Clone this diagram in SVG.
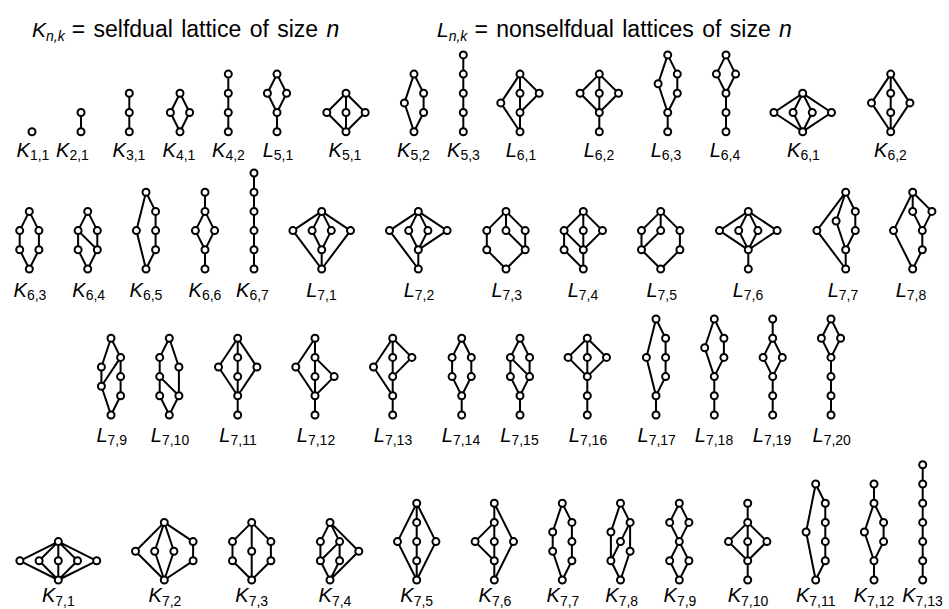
<svg xmlns="http://www.w3.org/2000/svg" width="949" height="609" viewBox="0 0 949 609">
<style>
.e{fill:none;stroke:#000;stroke-width:2;stroke-linejoin:round}
.n circle{fill:#fff;stroke:#000;stroke-width:2}
text{font-family:"Liberation Sans",Arial,sans-serif;font-size:20px;fill:#000}
.lb{text-anchor:middle}
.i{font-style:italic}
.s{font-size:14px}
.h{font-size:23px;word-spacing:2px}
</style>
<rect width="949" height="609" fill="#fff"/>
<g id="header">
<text x="32" y="37"><tspan class="i" font-size="21">K</tspan><tspan class="s i" dy="4">n,k</tspan><tspan class="h" dy="-4" dx="7">= selfdual lattice of size </tspan><tspan class="h i">n</tspan></text>
<text x="437" y="37"><tspan class="i" font-size="21">L</tspan><tspan class="s i" dy="4">n,k</tspan><tspan class="h" dy="-4" dx="7">= nonselfdual lattices of size </tspan><tspan class="h i">n</tspan></text>
</g>
<g id="connectors">
<path class="e" transform="translate(81,131.7)" d="M0 0V-19.2"/>
<path class="e" transform="translate(129.3,131.7)" d="M0 0V-38.4"/>
<path class="e" transform="translate(180,131.7)" d="M0 0L-9.6 -19.2L0 -38.4L9.6 -19.2Z"/>
<path class="e" transform="translate(228.3,131.7)" d="M0 0V-57.6"/>
<path class="e" transform="translate(277,131.7)" d="M0 0V-19.2L-9.6 -38.4L0 -57.6L9.6 -38.4L0 -19.2"/>
<path class="e" transform="translate(346,131.7)" d="M0 0L-19.2 -19.2L0 -38.4L19.2 -19.2Z M0 0V-38.4"/>
<path class="e" transform="translate(414,131.7)" d="M0 0L9.6 -19.2V-38.4L0 -57.6L-9.6 -28.8Z"/>
<path class="e" transform="translate(463.3,131.7)" d="M0 0V-76.8"/>
<path class="e" transform="translate(520,131.7)" d="M0 0V-57.6 M0 0L-19.2 -28.8L0 -57.6 M0 -19.2L19.2 -38.4L0 -57.6"/>
<path class="e" transform="translate(599.3,131.7)" d="M0 0V-57.6 M0 -19.2L-19.2 -38.4L0 -57.6L19.2 -38.4Z"/>
<path class="e" transform="translate(667.7,131.7)" d="M0 0V-19.2 M0 -19.2L9.6 -38.4V-57.6L0 -76.8L-9.6 -48Z"/>
<path class="e" transform="translate(726,131.7)" d="M0 0V-38.4L-9.6 -57.6L0 -76.8L9.6 -57.6L0 -38.4"/>
<path class="e" transform="translate(802.7,131.7)" d="M0 0L-28.8 -19.2L0 -38.4L28.8 -19.2Z M0 0L-9.6 -19.2L0 -38.4L9.6 -19.2Z"/>
<path class="e" transform="translate(890.7,131.7)" d="M0 0V-57.6 M0 0L-19.2 -28.8L0 -57.6L19.2 -28.8Z"/>

<path class="e" transform="translate(29.3,269)" d="M0 0L-9.6 -19.2V-38.4L0 -57.6L9.6 -38.4V-19.2Z"/>
<path class="e" transform="translate(87.7,269)" d="M0 0L-9.6 -19.2V-38.4L0 -57.6L9.6 -38.4V-19.2Z M-9.6 -38.4L9.6 -19.2"/>
<path class="e" transform="translate(146,269)" d="M0 0L9.6 -19.2V-57.6L0 -76.8L-9.6 -38.4Z"/>
<path class="e" transform="translate(205,269)" d="M0 0V-19.2L-9.6 -38.4L0 -57.6L9.6 -38.4L0 -19.2 M0 -57.6V-76.8"/>
<path class="e" transform="translate(254,269)" d="M0 0V-96"/>
<path class="e" transform="translate(321.7,269)" d="M0 0L-28.8 -38.4L0 -57.6L28.8 -38.4Z M0 0V-19.2L-9.6 -38.4L0 -57.6L9.6 -38.4L0 -19.2"/>
<path class="e" transform="translate(418.3,269)" d="M0 0L-28.8 -38.4L0 -57.6L28.8 -38.4L0 -19.2V0 M0 -19.2L-9.6 -38.4L0 -57.6L9.6 -38.4L0 -19.2"/>
<path class="e" transform="translate(506,269)" d="M0 0L-19.2 -19.2V-38.4L0 -57.6L19.2 -38.4V-19.2Z M0 -57.6V-38.4L19.2 -19.2"/>
<path class="e" transform="translate(583.3,269)" d="M0 0L-19.2 -19.2V-38.4L0 -57.6L19.2 -38.4L0 -19.2Z M-19.2 -38.4L0 -19.2V-57.6"/>
<path class="e" transform="translate(660.7,269)" d="M0 0L-19.2 -19.2V-38.4L0 -57.6L19.2 -38.4V-19.2Z M0 -57.6V-38.4L-19.2 -19.2"/>
<path class="e" transform="translate(748.3,269)" d="M0 0V-19.2L-28.8 -38.4L0 -57.6L28.8 -38.4L0 -19.2L-9.6 -38.4L0 -57.6L9.6 -38.4L0 -19.2"/>
<path class="e" transform="translate(845.7,269)" d="M0 0V-19.2L9.6 -38.4V-57.6L0 -76.8L-9.6 -48L0 -19.2 M0 0L-28.8 -38.4L0 -76.8"/>
<path class="e" transform="translate(912.7,269)" d="M0 0L9.6 -19.2V-38.4L0 -57.6L0 -76.8L19.2 -57.6L9.6 -38.4 M0 0L-19.2 -38.4L0 -76.8"/>

<path class="e" transform="translate(111,415)" d="M0 0L9.6 -19.2V-57.6L0 -76.8L-9.6 -48V-28.8Z M9.6 -57.6L-9.6 -28.8"/>
<path class="e" transform="translate(169.3,415)" d="M0 0L-9.6 -19.2V-57.6L0 -76.8L9.6 -48V-19.2Z M-9.6 -38.4L9.6 -19.2"/>
<path class="e" transform="translate(237.7,415)" d="M0 0V-76.8 M0 -19.2L-19.2 -48L0 -76.8L19.2 -48Z"/>
<path class="e" transform="translate(315,415)" d="M0 0V-76.8 M0 -19.2L-19.2 -48L0 -76.8 M0 -19.2L19.2 -38.4L0 -57.6"/>
<path class="e" transform="translate(392.7,415)" d="M0 0V-76.8 M0 -19.2L-19.2 -48L0 -76.8 M0 -38.4L19.2 -57.6L0 -76.8"/>
<path class="e" transform="translate(461.7,415)" d="M0 0V-19.2 M0 -19.2L-9.6 -38.4V-57.6L0 -76.8L9.6 -57.6V-38.4Z"/>
<path class="e" transform="translate(520,415)" d="M0 0V-19.2 M0 -19.2L-9.6 -38.4V-57.6L0 -76.8L9.6 -57.6V-38.4Z M-9.6 -57.6L9.6 -38.4"/>
<path class="e" transform="translate(587.3,415)" d="M0 0V-38.4L-19.2 -57.6L0 -76.8L19.2 -57.6L0 -38.4V-76.8"/>
<path class="e" transform="translate(656,415)" d="M0 0V-19.2L9.6 -38.4V-76.8L0 -96L-9.6 -57.6L0 -19.2"/>
<path class="e" transform="translate(714.3,415)" d="M0 0V-38.4L9.6 -57.6V-76.8L0 -96L-9.6 -67.2L0 -38.4"/>
<path class="e" transform="translate(772.7,415)" d="M0 0V-38.4L-9.6 -57.6L0 -76.8L9.6 -57.6L0 -38.4 M0 -76.8V-96"/>
<path class="e" transform="translate(831,415)" d="M0 0V-57.6L-9.6 -76.8L0 -96L9.6 -76.8L0 -57.6"/>

<path class="e" transform="translate(58.3,580)" d="M0 0L-38.4 -19.2L0 -38.4L38.4 -19.2Z M0 0L-19.2 -19.2L0 -38.4L19.2 -19.2Z M0 0V-38.4"/>
<path class="e" transform="translate(164.3,580)" d="M0 0L-28.8 -28.8L0 -57.6L28.8 -38.4V-19.2Z M0 0L-9.6 -28.8L0 -57.6L9.6 -28.8Z"/>
<path class="e" transform="translate(251.7,580)" d="M0 0L-19.2 -19.2V-38.4L0 -57.6L19.2 -38.4V-19.2Z M0 0V-57.6"/>
<path class="e" transform="translate(330,580)" d="M0 0L-9.6 -19.2V-38.4L0 -57.6L9.6 -38.4V-19.2Z M-9.6 -19.2L9.6 -38.4 M0 0L28.8 -28.8L0 -57.6"/>
<path class="e" transform="translate(416.7,580)" d="M0 0V-76.8 M0 0L-19.2 -38.4L0 -76.8L19.2 -38.4Z"/>
<path class="e" transform="translate(494.3,580)" d="M0 0V-76.8 M0 -19.2L-19.2 -38.4L0 -57.6 M0 0L19.2 -38.4L0 -76.8"/>
<path class="e" transform="translate(562.3,580)" d="M0 0L-9.6 -28.8V-48L0 -76.8L9.6 -57.6V-19.2Z"/>
<path class="e" transform="translate(620.5,580)" d="M0 0L-9.6 -19.2V-48L0 -76.8L9.6 -57.6V-28.8Z M-9.6 -19.2L9.6 -57.6"/>
<path class="e" transform="translate(679.3,580)" d="M0 0L-9.6 -19.2L0 -38.4L9.6 -19.2Z M0 -38.4L-9.6 -57.6L0 -76.8L9.6 -57.6Z"/>
<path class="e" transform="translate(747.7,580)" d="M0 0V-76.8 M0 -19.2L-19.2 -38.4L0 -57.6L19.2 -38.4Z"/>
<path class="e" transform="translate(815.7,580)" d="M0 0L9.6 -19.2V-76.8L0 -96L-9.6 -48Z"/>
<path class="e" transform="translate(874,580)" d="M0 0V-19.2L9.6 -38.4V-57.6L0 -76.8V-96 M0 -19.2L-9.6 -48L0 -76.8"/>
<path class="e" transform="translate(922.7,580)" d="M0 0V-115.2"/>
</g>

<g id="K1_1" class="n"><g transform="translate(32,131.7)"><circle r="3.5"/></g><text class="lb" x="33" y="156.7"><tspan class="i">K</tspan><tspan class="s" dy="3.5">1,1</tspan></text></g>
<g id="K2_1" class="n"><g transform="translate(81,131.7)"><circle r="3.5"/><circle cy="-19.2" r="3.5"/></g><text class="lb" x="72.5" y="156.7"><tspan class="i">K</tspan><tspan class="s" dy="3.5">2,1</tspan></text></g>
<g id="K3_1" class="n"><g transform="translate(129.3,131.7)"><circle r="3.5"/><circle cy="-19.2" r="3.5"/><circle cy="-38.4" r="3.5"/></g><text class="lb" x="129" y="156.7"><tspan class="i">K</tspan><tspan class="s" dy="3.5">3,1</tspan></text></g>
<g id="K4_1" class="n"><g transform="translate(180,131.7)"><circle r="3.5"/><circle cx="-9.6" cy="-19.2" r="3.5"/><circle cx="9.6" cy="-19.2" r="3.5"/><circle cy="-38.4" r="3.5"/></g><text class="lb" x="179" y="156.7"><tspan class="i">K</tspan><tspan class="s" dy="3.5">4,1</tspan></text></g>
<g id="K4_2" class="n"><g transform="translate(228.3,131.7)"><circle r="3.5"/><circle cy="-19.2" r="3.5"/><circle cy="-38.4" r="3.5"/><circle cy="-57.6" r="3.5"/></g><text class="lb" x="228.5" y="156.7"><tspan class="i">K</tspan><tspan class="s" dy="3.5">4,2</tspan></text></g>
<g id="L5_1" class="n"><g transform="translate(277,131.7)"><circle r="3.5"/><circle cy="-19.2" r="3.5"/><circle cx="-9.6" cy="-38.4" r="3.5"/><circle cx="9.6" cy="-38.4" r="3.5"/><circle cy="-57.6" r="3.5"/></g><text class="lb" x="278" y="156.7"><tspan class="i">L</tspan><tspan class="s" dy="3.5">5,1</tspan></text></g>
<g id="K5_1" class="n"><g transform="translate(346,131.7)"><circle r="3.5"/><circle cx="-19.2" cy="-19.2" r="3.5"/><circle cy="-19.2" r="3.5"/><circle cx="19.2" cy="-19.2" r="3.5"/><circle cy="-38.4" r="3.5"/></g><text class="lb" x="345" y="156.7"><tspan class="i">K</tspan><tspan class="s" dy="3.5">5,1</tspan></text></g>
<g id="K5_2" class="n"><g transform="translate(414,131.7)"><circle r="3.5"/><circle cx="9.6" cy="-19.2" r="3.5"/><circle cx="9.6" cy="-38.4" r="3.5"/><circle cy="-57.6" r="3.5"/><circle cx="-9.6" cy="-28.8" r="3.5"/></g><text class="lb" x="413.5" y="156.7"><tspan class="i">K</tspan><tspan class="s" dy="3.5">5,2</tspan></text></g>
<g id="K5_3" class="n"><g transform="translate(463.3,131.7)"><circle r="3.5"/><circle cy="-19.2" r="3.5"/><circle cy="-38.4" r="3.5"/><circle cy="-57.6" r="3.5"/><circle cy="-76.8" r="3.5"/></g><text class="lb" x="463.5" y="156.7"><tspan class="i">K</tspan><tspan class="s" dy="3.5">5,3</tspan></text></g>
<g id="L6_1" class="n"><g transform="translate(520,131.7)"><circle r="3.5"/><circle cy="-19.2" r="3.5"/><circle cy="-38.4" r="3.5"/><circle cy="-57.6" r="3.5"/><circle cx="-19.2" cy="-28.8" r="3.5"/><circle cx="19.2" cy="-38.4" r="3.5"/></g><text class="lb" x="521" y="156.7"><tspan class="i">L</tspan><tspan class="s" dy="3.5">6,1</tspan></text></g>
<g id="L6_2" class="n"><g transform="translate(599.3,131.7)"><circle r="3.5"/><circle cy="-19.2" r="3.5"/><circle cx="-19.2" cy="-38.4" r="3.5"/><circle cy="-38.4" r="3.5"/><circle cx="19.2" cy="-38.4" r="3.5"/><circle cy="-57.6" r="3.5"/></g><text class="lb" x="599" y="156.7"><tspan class="i">L</tspan><tspan class="s" dy="3.5">6,2</tspan></text></g>
<g id="L6_3" class="n"><g transform="translate(667.7,131.7)"><circle r="3.5"/><circle cy="-19.2" r="3.5"/><circle cx="9.6" cy="-38.4" r="3.5"/><circle cx="9.6" cy="-57.6" r="3.5"/><circle cx="-9.6" cy="-48" r="3.5"/><circle cy="-76.8" r="3.5"/></g><text class="lb" x="666" y="156.7"><tspan class="i">L</tspan><tspan class="s" dy="3.5">6,3</tspan></text></g>
<g id="L6_4" class="n"><g transform="translate(726,131.7)"><circle r="3.5"/><circle cy="-19.2" r="3.5"/><circle cy="-38.4" r="3.5"/><circle cx="-9.6" cy="-57.6" r="3.5"/><circle cx="9.6" cy="-57.6" r="3.5"/><circle cy="-76.8" r="3.5"/></g><text class="lb" x="725" y="156.7"><tspan class="i">L</tspan><tspan class="s" dy="3.5">6,4</tspan></text></g>
<g id="K6_1" class="n"><g transform="translate(802.7,131.7)"><circle r="3.5"/><circle cx="-28.8" cy="-19.2" r="3.5"/><circle cx="-9.6" cy="-19.2" r="3.5"/><circle cx="9.6" cy="-19.2" r="3.5"/><circle cx="28.8" cy="-19.2" r="3.5"/><circle cy="-38.4" r="3.5"/></g><text class="lb" x="803.5" y="156.7"><tspan class="i">K</tspan><tspan class="s" dy="3.5">6,1</tspan></text></g>
<g id="K6_2" class="n"><g transform="translate(890.7,131.7)"><circle r="3.5"/><circle cy="-19.2" r="3.5"/><circle cy="-38.4" r="3.5"/><circle cy="-57.6" r="3.5"/><circle cx="-19.2" cy="-28.8" r="3.5"/><circle cx="19.2" cy="-28.8" r="3.5"/></g><text class="lb" x="890.5" y="156.7"><tspan class="i">K</tspan><tspan class="s" dy="3.5">6,2</tspan></text></g>

<g id="K6_3" class="n"><g transform="translate(29.3,269)"><circle r="3.5"/><circle cx="-9.6" cy="-19.2" r="3.5"/><circle cx="-9.6" cy="-38.4" r="3.5"/><circle cy="-57.6" r="3.5"/><circle cx="9.6" cy="-38.4" r="3.5"/><circle cx="9.6" cy="-19.2" r="3.5"/></g><text class="lb" x="30" y="296.5"><tspan class="i">K</tspan><tspan class="s" dy="3.5">6,3</tspan></text></g>
<g id="K6_4" class="n"><g transform="translate(87.7,269)"><circle r="3.5"/><circle cx="-9.6" cy="-19.2" r="3.5"/><circle cx="-9.6" cy="-38.4" r="3.5"/><circle cy="-57.6" r="3.5"/><circle cx="9.6" cy="-38.4" r="3.5"/><circle cx="9.6" cy="-19.2" r="3.5"/></g><text class="lb" x="88.7" y="296.5"><tspan class="i">K</tspan><tspan class="s" dy="3.5">6,4</tspan></text></g>
<g id="K6_5" class="n"><g transform="translate(146,269)"><circle r="3.5"/><circle cx="9.6" cy="-19.2" r="3.5"/><circle cx="9.6" cy="-38.4" r="3.5"/><circle cx="9.6" cy="-57.6" r="3.5"/><circle cy="-76.8" r="3.5"/><circle cx="-9.6" cy="-38.4" r="3.5"/></g><text class="lb" x="146" y="296.5"><tspan class="i">K</tspan><tspan class="s" dy="3.5">6,5</tspan></text></g>
<g id="K6_6" class="n"><g transform="translate(205,269)"><circle r="3.5"/><circle cy="-19.2" r="3.5"/><circle cx="-9.6" cy="-38.4" r="3.5"/><circle cx="9.6" cy="-38.4" r="3.5"/><circle cy="-57.6" r="3.5"/><circle cy="-76.8" r="3.5"/></g><text class="lb" x="205" y="296.5"><tspan class="i">K</tspan><tspan class="s" dy="3.5">6,6</tspan></text></g>
<g id="K6_7" class="n"><g transform="translate(254,269)"><circle r="3.5"/><circle cy="-19.2" r="3.5"/><circle cy="-38.4" r="3.5"/><circle cy="-57.6" r="3.5"/><circle cy="-76.8" r="3.5"/><circle cy="-96" r="3.5"/></g><text class="lb" x="252.5" y="296.5"><tspan class="i">K</tspan><tspan class="s" dy="3.5">6,7</tspan></text></g>
<g id="L7_1" class="n"><g transform="translate(321.7,269)"><circle r="3.5"/><circle cy="-19.2" r="3.5"/><circle cx="-28.8" cy="-38.4" r="3.5"/><circle cx="-9.6" cy="-38.4" r="3.5"/><circle cx="9.6" cy="-38.4" r="3.5"/><circle cx="28.8" cy="-38.4" r="3.5"/><circle cy="-57.6" r="3.5"/></g><text class="lb" x="321.5" y="296.5"><tspan class="i">L</tspan><tspan class="s" dy="3.5">7,1</tspan></text></g>
<g id="L7_2" class="n"><g transform="translate(418.3,269)"><circle r="3.5"/><circle cy="-19.2" r="3.5"/><circle cx="-28.8" cy="-38.4" r="3.5"/><circle cx="-9.6" cy="-38.4" r="3.5"/><circle cx="9.6" cy="-38.4" r="3.5"/><circle cx="28.8" cy="-38.4" r="3.5"/><circle cy="-57.6" r="3.5"/></g><text class="lb" x="419" y="296.5"><tspan class="i">L</tspan><tspan class="s" dy="3.5">7,2</tspan></text></g>
<g id="L7_3" class="n"><g transform="translate(506,269)"><circle r="3.5"/><circle cx="-19.2" cy="-19.2" r="3.5"/><circle cx="-19.2" cy="-38.4" r="3.5"/><circle cy="-57.6" r="3.5"/><circle cx="19.2" cy="-38.4" r="3.5"/><circle cx="19.2" cy="-19.2" r="3.5"/><circle cy="-38.4" r="3.5"/></g><text class="lb" x="506.7" y="296.5"><tspan class="i">L</tspan><tspan class="s" dy="3.5">7,3</tspan></text></g>
<g id="L7_4" class="n"><g transform="translate(583.3,269)"><circle r="3.5"/><circle cx="-19.2" cy="-19.2" r="3.5"/><circle cx="-19.2" cy="-38.4" r="3.5"/><circle cy="-57.6" r="3.5"/><circle cx="19.2" cy="-38.4" r="3.5"/><circle cy="-19.2" r="3.5"/><circle cy="-38.4" r="3.5"/></g><text class="lb" x="583" y="296.5"><tspan class="i">L</tspan><tspan class="s" dy="3.5">7,4</tspan></text></g>
<g id="L7_5" class="n"><g transform="translate(660.7,269)"><circle r="3.5"/><circle cx="-19.2" cy="-19.2" r="3.5"/><circle cx="-19.2" cy="-38.4" r="3.5"/><circle cy="-57.6" r="3.5"/><circle cx="19.2" cy="-38.4" r="3.5"/><circle cx="19.2" cy="-19.2" r="3.5"/><circle cy="-38.4" r="3.5"/></g><text class="lb" x="661.7" y="296.5"><tspan class="i">L</tspan><tspan class="s" dy="3.5">7,5</tspan></text></g>
<g id="L7_6" class="n"><g transform="translate(748.3,269)"><circle r="3.5"/><circle cy="-19.2" r="3.5"/><circle cx="-28.8" cy="-38.4" r="3.5"/><circle cx="-9.6" cy="-38.4" r="3.5"/><circle cx="9.6" cy="-38.4" r="3.5"/><circle cx="28.8" cy="-38.4" r="3.5"/><circle cy="-57.6" r="3.5"/></g><text class="lb" x="748" y="296.5"><tspan class="i">L</tspan><tspan class="s" dy="3.5">7,6</tspan></text></g>
<g id="L7_7" class="n"><g transform="translate(845.7,269)"><circle r="3.5"/><circle cy="-19.2" r="3.5"/><circle cx="9.6" cy="-38.4" r="3.5"/><circle cx="9.6" cy="-57.6" r="3.5"/><circle cy="-76.8" r="3.5"/><circle cx="-9.6" cy="-48" r="3.5"/><circle cx="-28.8" cy="-38.4" r="3.5"/></g><text class="lb" x="843" y="296.5"><tspan class="i">L</tspan><tspan class="s" dy="3.5">7,7</tspan></text></g>
<g id="L7_8" class="n"><g transform="translate(912.7,269)"><circle r="3.5"/><circle cx="9.6" cy="-19.2" r="3.5"/><circle cx="9.6" cy="-38.4" r="3.5"/><circle cy="-57.6" r="3.5"/><circle cx="19.2" cy="-57.6" r="3.5"/><circle cy="-76.8" r="3.5"/><circle cx="-19.2" cy="-38.4" r="3.5"/></g><text class="lb" x="911" y="296.5"><tspan class="i">L</tspan><tspan class="s" dy="3.5">7,8</tspan></text></g>

<g id="L7_9" class="n"><g transform="translate(111,415)"><circle r="3.5"/><circle cx="9.6" cy="-19.2" r="3.5"/><circle cx="9.6" cy="-38.4" r="3.5"/><circle cx="9.6" cy="-57.6" r="3.5"/><circle cy="-76.8" r="3.5"/><circle cx="-9.6" cy="-48" r="3.5"/><circle cx="-9.6" cy="-28.8" r="3.5"/></g><text class="lb" x="111.7" y="441.7"><tspan class="i">L</tspan><tspan class="s" dy="3.5">7,9</tspan></text></g>
<g id="L7_10" class="n"><g transform="translate(169.3,415)"><circle r="3.5"/><circle cx="-9.6" cy="-19.2" r="3.5"/><circle cx="-9.6" cy="-38.4" r="3.5"/><circle cx="-9.6" cy="-57.6" r="3.5"/><circle cy="-76.8" r="3.5"/><circle cx="9.6" cy="-48" r="3.5"/><circle cx="9.6" cy="-19.2" r="3.5"/></g><text class="lb" x="170" y="441.7"><tspan class="i">L</tspan><tspan class="s" dy="3.5">7,10</tspan></text></g>
<g id="L7_11" class="n"><g transform="translate(237.7,415)"><circle r="3.5"/><circle cy="-19.2" r="3.5"/><circle cy="-38.4" r="3.5"/><circle cy="-57.6" r="3.5"/><circle cy="-76.8" r="3.5"/><circle cx="-19.2" cy="-48" r="3.5"/><circle cx="19.2" cy="-48" r="3.5"/></g><text class="lb" x="238" y="441.7"><tspan class="i">L</tspan><tspan class="s" dy="3.5">7,11</tspan></text></g>
<g id="L7_12" class="n"><g transform="translate(315,415)"><circle r="3.5"/><circle cy="-19.2" r="3.5"/><circle cy="-38.4" r="3.5"/><circle cy="-57.6" r="3.5"/><circle cy="-76.8" r="3.5"/><circle cx="-19.2" cy="-48" r="3.5"/><circle cx="19.2" cy="-38.4" r="3.5"/></g><text class="lb" x="316" y="441.7"><tspan class="i">L</tspan><tspan class="s" dy="3.5">7,12</tspan></text></g>
<g id="L7_13" class="n"><g transform="translate(392.7,415)"><circle r="3.5"/><circle cy="-19.2" r="3.5"/><circle cy="-38.4" r="3.5"/><circle cy="-57.6" r="3.5"/><circle cy="-76.8" r="3.5"/><circle cx="-19.2" cy="-48" r="3.5"/><circle cx="19.2" cy="-57.6" r="3.5"/></g><text class="lb" x="393" y="441.7"><tspan class="i">L</tspan><tspan class="s" dy="3.5">7,13</tspan></text></g>
<g id="L7_14" class="n"><g transform="translate(461.7,415)"><circle r="3.5"/><circle cy="-19.2" r="3.5"/><circle cx="-9.6" cy="-38.4" r="3.5"/><circle cx="-9.6" cy="-57.6" r="3.5"/><circle cy="-76.8" r="3.5"/><circle cx="9.6" cy="-57.6" r="3.5"/><circle cx="9.6" cy="-38.4" r="3.5"/></g><text class="lb" x="461" y="441.7"><tspan class="i">L</tspan><tspan class="s" dy="3.5">7,14</tspan></text></g>
<g id="L7_15" class="n"><g transform="translate(520,415)"><circle r="3.5"/><circle cy="-19.2" r="3.5"/><circle cx="-9.6" cy="-38.4" r="3.5"/><circle cx="-9.6" cy="-57.6" r="3.5"/><circle cy="-76.8" r="3.5"/><circle cx="9.6" cy="-57.6" r="3.5"/><circle cx="9.6" cy="-38.4" r="3.5"/></g><text class="lb" x="519.5" y="441.7"><tspan class="i">L</tspan><tspan class="s" dy="3.5">7,15</tspan></text></g>
<g id="L7_16" class="n"><g transform="translate(587.3,415)"><circle r="3.5"/><circle cy="-19.2" r="3.5"/><circle cy="-38.4" r="3.5"/><circle cx="-19.2" cy="-57.6" r="3.5"/><circle cy="-57.6" r="3.5"/><circle cx="19.2" cy="-57.6" r="3.5"/><circle cy="-76.8" r="3.5"/></g><text class="lb" x="588" y="441.7"><tspan class="i">L</tspan><tspan class="s" dy="3.5">7,16</tspan></text></g>
<g id="L7_17" class="n"><g transform="translate(656,415)"><circle r="3.5"/><circle cy="-19.2" r="3.5"/><circle cx="9.6" cy="-38.4" r="3.5"/><circle cx="9.6" cy="-57.6" r="3.5"/><circle cx="9.6" cy="-76.8" r="3.5"/><circle cy="-96" r="3.5"/><circle cx="-9.6" cy="-57.6" r="3.5"/></g><text class="lb" x="656.7" y="441.7"><tspan class="i">L</tspan><tspan class="s" dy="3.5">7,17</tspan></text></g>
<g id="L7_18" class="n"><g transform="translate(714.3,415)"><circle r="3.5"/><circle cy="-19.2" r="3.5"/><circle cy="-38.4" r="3.5"/><circle cx="9.6" cy="-57.6" r="3.5"/><circle cx="9.6" cy="-76.8" r="3.5"/><circle cy="-96" r="3.5"/><circle cx="-9.6" cy="-67.2" r="3.5"/></g><text class="lb" x="714" y="441.7"><tspan class="i">L</tspan><tspan class="s" dy="3.5">7,18</tspan></text></g>
<g id="L7_19" class="n"><g transform="translate(772.7,415)"><circle r="3.5"/><circle cy="-19.2" r="3.5"/><circle cy="-38.4" r="3.5"/><circle cx="-9.6" cy="-57.6" r="3.5"/><circle cx="9.6" cy="-57.6" r="3.5"/><circle cy="-76.8" r="3.5"/><circle cy="-96" r="3.5"/></g><text class="lb" x="772" y="441.7"><tspan class="i">L</tspan><tspan class="s" dy="3.5">7,19</tspan></text></g>
<g id="L7_20" class="n"><g transform="translate(831,415)"><circle r="3.5"/><circle cy="-19.2" r="3.5"/><circle cy="-38.4" r="3.5"/><circle cy="-57.6" r="3.5"/><circle cx="-9.6" cy="-76.8" r="3.5"/><circle cx="9.6" cy="-76.8" r="3.5"/><circle cy="-96" r="3.5"/></g><text class="lb" x="831.7" y="441.7"><tspan class="i">L</tspan><tspan class="s" dy="3.5">7,20</tspan></text></g>

<g id="K7_1" class="n"><g transform="translate(58.3,580)"><circle r="3.5"/><circle cx="-38.4" cy="-19.2" r="3.5"/><circle cx="-19.2" cy="-19.2" r="3.5"/><circle cy="-19.2" r="3.5"/><circle cx="19.2" cy="-19.2" r="3.5"/><circle cx="38.4" cy="-19.2" r="3.5"/><circle cy="-38.4" r="3.5"/></g><text class="lb" x="58.3" y="602"><tspan class="i">K</tspan><tspan class="s" dy="3.5">7,1</tspan></text></g>
<g id="K7_2" class="n"><g transform="translate(164.3,580)"><circle r="3.5"/><circle cx="-28.8" cy="-28.8" r="3.5"/><circle cx="-9.6" cy="-28.8" r="3.5"/><circle cx="9.6" cy="-28.8" r="3.5"/><circle cx="28.8" cy="-19.2" r="3.5"/><circle cx="28.8" cy="-38.4" r="3.5"/><circle cy="-57.6" r="3.5"/></g><text class="lb" x="165" y="602"><tspan class="i">K</tspan><tspan class="s" dy="3.5">7,2</tspan></text></g>
<g id="K7_3" class="n"><g transform="translate(251.7,580)"><circle r="3.5"/><circle cx="-19.2" cy="-19.2" r="3.5"/><circle cx="-19.2" cy="-38.4" r="3.5"/><circle cy="-28.8" r="3.5"/><circle cx="19.2" cy="-19.2" r="3.5"/><circle cx="19.2" cy="-38.4" r="3.5"/><circle cy="-57.6" r="3.5"/></g><text class="lb" x="251.7" y="602"><tspan class="i">K</tspan><tspan class="s" dy="3.5">7,3</tspan></text></g>
<g id="K7_4" class="n"><g transform="translate(330,580)"><circle r="3.5"/><circle cx="-9.6" cy="-19.2" r="3.5"/><circle cx="-9.6" cy="-38.4" r="3.5"/><circle cy="-57.6" r="3.5"/><circle cx="9.6" cy="-38.4" r="3.5"/><circle cx="9.6" cy="-19.2" r="3.5"/><circle cx="28.8" cy="-28.8" r="3.5"/></g><text class="lb" x="335" y="602"><tspan class="i">K</tspan><tspan class="s" dy="3.5">7,4</tspan></text></g>
<g id="K7_5" class="n"><g transform="translate(416.7,580)"><circle r="3.5"/><circle cy="-19.2" r="3.5"/><circle cy="-38.4" r="3.5"/><circle cy="-57.6" r="3.5"/><circle cy="-76.8" r="3.5"/><circle cx="-19.2" cy="-38.4" r="3.5"/><circle cx="19.2" cy="-38.4" r="3.5"/></g><text class="lb" x="416.7" y="602"><tspan class="i">K</tspan><tspan class="s" dy="3.5">7,5</tspan></text></g>
<g id="K7_6" class="n"><g transform="translate(494.3,580)"><circle r="3.5"/><circle cy="-19.2" r="3.5"/><circle cy="-38.4" r="3.5"/><circle cy="-57.6" r="3.5"/><circle cy="-76.8" r="3.5"/><circle cx="-19.2" cy="-38.4" r="3.5"/><circle cx="19.2" cy="-38.4" r="3.5"/></g><text class="lb" x="495" y="602"><tspan class="i">K</tspan><tspan class="s" dy="3.5">7,6</tspan></text></g>
<g id="K7_7" class="n"><g transform="translate(562.3,580)"><circle r="3.5"/><circle cx="-9.6" cy="-28.8" r="3.5"/><circle cx="-9.6" cy="-48" r="3.5"/><circle cy="-76.8" r="3.5"/><circle cx="9.6" cy="-57.6" r="3.5"/><circle cx="9.6" cy="-38.4" r="3.5"/><circle cx="9.6" cy="-19.2" r="3.5"/></g><text class="lb" x="563" y="602"><tspan class="i">K</tspan><tspan class="s" dy="3.5">7,7</tspan></text></g>
<g id="K7_8" class="n"><g transform="translate(620.5,580)"><circle r="3.5"/><circle cx="-9.6" cy="-19.2" r="3.5"/><circle cx="-9.6" cy="-48" r="3.5"/><circle cy="-76.8" r="3.5"/><circle cx="9.6" cy="-57.6" r="3.5"/><circle cx="9.6" cy="-28.8" r="3.5"/><circle cy="-38.4" r="3.5"/></g><text class="lb" x="621.7" y="602"><tspan class="i">K</tspan><tspan class="s" dy="3.5">7,8</tspan></text></g>
<g id="K7_9" class="n"><g transform="translate(679.3,580)"><circle r="3.5"/><circle cx="-9.6" cy="-19.2" r="3.5"/><circle cx="9.6" cy="-19.2" r="3.5"/><circle cy="-38.4" r="3.5"/><circle cx="-9.6" cy="-57.6" r="3.5"/><circle cx="9.6" cy="-57.6" r="3.5"/><circle cy="-76.8" r="3.5"/></g><text class="lb" x="680" y="602"><tspan class="i">K</tspan><tspan class="s" dy="3.5">7,9</tspan></text></g>
<g id="K7_10" class="n"><g transform="translate(747.7,580)"><circle r="3.5"/><circle cy="-19.2" r="3.5"/><circle cx="-19.2" cy="-38.4" r="3.5"/><circle cy="-38.4" r="3.5"/><circle cx="19.2" cy="-38.4" r="3.5"/><circle cy="-57.6" r="3.5"/><circle cy="-76.8" r="3.5"/></g><text class="lb" x="748" y="602"><tspan class="i">K</tspan><tspan class="s" dy="3.5">7,10</tspan></text></g>
<g id="K7_11" class="n"><g transform="translate(815.7,580)"><circle r="3.5"/><circle cx="9.6" cy="-19.2" r="3.5"/><circle cx="9.6" cy="-38.4" r="3.5"/><circle cx="9.6" cy="-57.6" r="3.5"/><circle cx="9.6" cy="-76.8" r="3.5"/><circle cy="-96" r="3.5"/><circle cx="-9.6" cy="-48" r="3.5"/></g><text class="lb" x="815.7" y="602"><tspan class="i">K</tspan><tspan class="s" dy="3.5">7,11</tspan></text></g>
<g id="K7_12" class="n"><g transform="translate(874,580)"><circle r="3.5"/><circle cy="-19.2" r="3.5"/><circle cx="9.6" cy="-38.4" r="3.5"/><circle cx="9.6" cy="-57.6" r="3.5"/><circle cy="-76.8" r="3.5"/><circle cy="-96" r="3.5"/><circle cx="-9.6" cy="-48" r="3.5"/></g><text class="lb" x="874" y="602"><tspan class="i">K</tspan><tspan class="s" dy="3.5">7,12</tspan></text></g>
<g id="K7_13" class="n"><g transform="translate(922.7,580)"><circle r="3.5"/><circle cy="-19.2" r="3.5"/><circle cy="-38.4" r="3.5"/><circle cy="-57.6" r="3.5"/><circle cy="-76.8" r="3.5"/><circle cy="-96" r="3.5"/><circle cy="-115.2" r="3.5"/></g><text class="lb" x="922.5" y="602"><tspan class="i">K</tspan><tspan class="s" dy="3.5">7,13</tspan></text></g>
</svg>
